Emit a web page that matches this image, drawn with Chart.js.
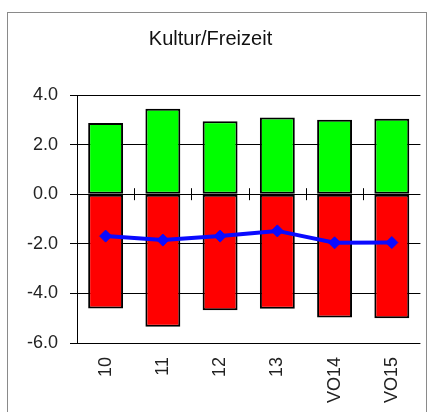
<!DOCTYPE html>
<html lang="de">
<head>
  <meta charset="UTF-8" />
  <title>Kultur/Freizeit</title>
  <script src="https://cdn.jsdelivr.net/npm/chart.js"></script>
  <style>
    body {
      margin: 0;
      background: #fff;
    }

    #wrap {
      position: relative;
      width: 428px;
      height: 412px;
      overflow: hidden;
    }

    #frame {
      position: absolute;
      left: 7px;
      top: 12px;
      width: 420px;
      height: 420px;
      border: 1px solid #8a8a8a;
      box-sizing: border-box;
    }

    canvas {
      position: absolute;
      left: 0;
      top: 0;
    }
  </style>
</head>
<body>

  <div id="wrap">
    <div id="frame"></div>
    <canvas id="chart" width="428" height="412"></canvas>
  </div>

  <script>
    const categories = ['10', '11', '12', '13', 'VO14', 'VO15'];
    const positiveValues = [2.87, 3.45, 2.94, 3.09, 3.0, 3.04];
    const negativeValues = [-4.61, -5.34, -4.68, -4.62, -4.97, -5.0];
    const balanceValues = [-1.69, -1.85, -1.69, -1.48, -1.96, -1.95];

    const fontFamily = "'Liberation Sans', Arial, sans-serif";

    // small cross ticks on the zero line between the categories
    const zeroTicks = {
      id: 'zeroTicks',
      afterDatasetsDraw: chart => {
        const x = chart.scales.x;
        const y = chart.scales.y;
        const y0 = y.getPixelForValue(0);
        const ctx = chart.ctx;
        ctx.save();
        ctx.strokeStyle = '#000';
        ctx.lineWidth = 1;
        ctx.beginPath();
        for (let i = 1; i < categories.length; i++) {
          const px = Math.round((x.getPixelForValue(i - 1) + x.getPixelForValue(i)) / 2) + 0.5;
          ctx.moveTo(px, y0 - 6);
          ctx.lineTo(px, y0 + 6);
        }
        ctx.stroke();
        ctx.restore();
      }
    };

    new Chart(document.getElementById('chart'), {
      type: 'bar',
      data: {
        labels: categories,
        datasets: [
          {
            type: 'line',
            data: balanceValues,
            stack: 'line',
            order: 0,
            borderColor: '#0a0aff',
            backgroundColor: '#0a0aff',
            borderWidth: 4,
            pointStyle: 'rectRot',
            pointRadius: 6,
            pointBorderWidth: 1,
            tension: 0
          },
          {
            data: positiveValues,
            stack: 'bars',
            order: 1,
            backgroundColor: '#00ff00',
            borderColor: '#000',
            borderWidth: 2,
            borderSkipped: false
          },
          {
            data: negativeValues,
            stack: 'bars',
            order: 1,
            backgroundColor: '#ff0000',
            borderColor: '#000',
            borderWidth: 2,
            borderSkipped: false
          }
        ]
      },
      options: {
        responsive: false,
        animation: false,
        layout: {
          padding: { left: 0, right: 7, top: 0, bottom: 0 }
        },
        datasets: {
          bar: {
            categoryPercentage: 1,
            barPercentage: 0.61
          }
        },
        plugins: {
          legend: { display: false },
          tooltip: { enabled: false },
          title: {
            display: true,
            text: 'Kultur/Freizeit',
            color: '#111',
            font: { family: fontFamily, size: 20, weight: 'normal' },
            padding: { top: 27, bottom: 44 }
          }
        },
        scales: {
          x: {
            stacked: true,
            grid: { display: false, drawTicks: false },
            border: { display: false },
            ticks: {
              color: '#222',
              font: { family: fontFamily, size: 18 },
              minRotation: 90,
              maxRotation: 90,
              padding: 14
            },
            afterFit: scale => { scale.height = 69; }
          },
          y: {
            stacked: true,
            min: -6,
            max: 4,
            grid: { color: '#000', lineWidth: 1, tickLength: 7 },
            border: { display: true, color: '#000', width: 1 },
            ticks: {
              stepSize: 2,
              color: '#222',
              font: { family: fontFamily, size: 18 },
              padding: 12,
              callback: v => v.toFixed(1)
            },
            afterFit: scale => { scale.width = 77; }
          }
        }
      },
      plugins: [zeroTicks]
    });
  </script>

</body>
</html>
